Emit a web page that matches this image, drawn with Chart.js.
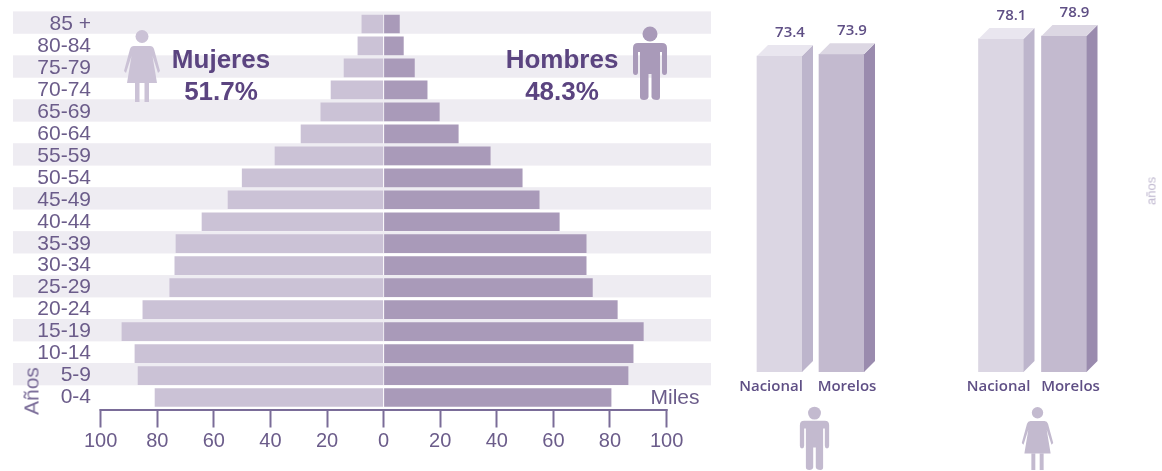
<!DOCTYPE html>
<html lang="es"><head><meta charset="utf-8"><title>Pirámide de población</title>
<script src="https://cdn.jsdelivr.net/npm/chart.js@4/dist/chart.umd.min.js"></script>
<style>
html,body{margin:0;padding:0;background:#fff;width:1162px;height:471px;overflow:hidden}
#stage{position:relative;width:1162px;height:471px;filter:blur(.45px);font-family:"Liberation Sans",Arial,sans-serif}
canvas{position:absolute;top:0}
.t{position:absolute;white-space:nowrap;transform:translate(-50%,-50%);line-height:1}
.h{font-weight:700;font-size:26px;color:#5b4480}
.rot{transform:translate(-50%,-50%) rotate(-90deg)}
svg{position:absolute;overflow:visible}
</style></head><body>
<div id="stage">
<canvas id="pyr" width="720" height="471" style="left:0;width:720px;height:471px"></canvas>
<canvas id="eh" width="170" height="471" style="left:728px;width:170px;height:471px"></canvas>
<canvas id="em" width="212" height="471" style="left:950px;width:212px;height:471px"></canvas>

<div class="t h" style="left:221px;top:59px">Mujeres</div>
<div class="t h" style="left:221px;top:91px">51.7%</div>
<div class="t h" style="left:562px;top:59px">Hombres</div>
<div class="t h" style="left:562px;top:91px">48.3%</div>
<div class="t" style="left:675px;top:396px;font-size:21px;color:#6b5c8a">Miles</div>
<div class="t rot" style="left:31px;top:391px;font-size:21px;color:#7a6c98">Años</div>
<div class="t rot" style="left:1151px;top:191px;font-size:13px;color:#bfb7cf">años</div>

<svg width="0" height="0" style="position:absolute">
<defs>
<g id="fem"><circle cx="20" cy="6.5" r="6.5"/><path d="M12 16H28Q31 16 32 19L38 41 36 43 30.5 26 35 53H5L9.5 26 4 43 2 41 8 19Q9 16 12 16Z"/><rect x="13" y="53" width="4.5" height="19"/><rect x="22.5" y="53" width="4.5" height="19"/></g>
<g id="mal"><circle cx="18" cy="7" r="7.5"/><path d="M6 16H30Q35 16 35 21V45Q35 48 32.5 48 30 48 30 45V25H28V70Q28 73 25 73 20 73 19.5 70V47H16.5V70Q16 73 12 73 8 73 8 70V25H6V45Q6 48 3.5 48 1 48 1 45V21Q1 16 6 16Z"/></g>
</defs></svg>
<svg style="left:122px;top:29.5px" width="40" height="72" viewBox="0 0 40 72" fill="#cbc2d6"><use href="#fem"/></svg>
<svg style="left:632px;top:27px" width="36" height="73" viewBox="0 0 36 73" fill="#a99ab9"><use href="#mal"/></svg>
<svg style="left:799px;top:407px" width="31" height="63" viewBox="0 0 36 73" fill="#c3bacf"><use href="#mal"/></svg>
<svg style="left:1020px;top:407px" width="35" height="63" viewBox="0 0 40 72" fill="#c3bacf"><use href="#fem"/></svg>
</div>
<script>
// ---- data ----
const ageGroups = ['85 +','80-84','75-79','70-74','65-69','60-64','55-59','50-54','45-49','40-44','35-39','30-34','25-29','20-24','15-19','10-14','5-9','0-4'];
const mujeres = [7.8,9.2,14.1,18.7,22.3,29.3,38.5,50.1,55.1,64.3,73.5,73.9,75.7,85.2,92.6,88,86.9,80.9];
const hombres = [5.7,7.1,11,15.5,19.8,26.5,37.8,49.1,55.1,62.2,71.7,71.7,73.9,82.7,91.9,88.3,86.5,80.5];
const milesTicks = [-100,-80,-60,-40,-20,0,20,40,60,80,100];
const lugares = ['Nacional','Morelos'];
const esperanzaHombres = [73.4,73.9];
const esperanzaMujeres = [78.1,78.9];

const labelColor = '#6b5c8a';
const font = 'Liberation Sans';

// alternating background bands and bottom axis line of the pyramid
const pyramidBack = {
  id:'pyramidBack',
  beforeDraw(c){
    const y=c.scales.y, g=c.ctx, step=y.getPixelForValue(1)-y.getPixelForValue(0);
    g.save(); g.fillStyle='#eeecf2';
    ageGroups.forEach((_,i)=>{ if(i%2===0){
      const cy=y.getPixelForValue(i);
      g.fillRect(13,cy-step/2-1.6,c.chartArea.right-13,step+.4);
    }});
    g.restore();
  },
  afterDraw(c){
    const x=c.scales.x,g=c.ctx,b=c.chartArea.bottom+1.5;
    g.save(); g.strokeStyle='#7a6c98'; g.lineWidth=2;
    g.beginPath(); g.moveTo(x.getPixelForValue(milesTicks[0])-1,b); g.lineTo(x.getPixelForValue(milesTicks[milesTicks.length-1])+1,b); g.stroke();
    g.restore();
  }
};

new Chart(document.getElementById('pyr'),{
  type:'bar',
  data:{labels:ageGroups,datasets:[
    {label:'Mujeres',data:mujeres.map(v=>-v),backgroundColor:'#cbc2d6',barPercentage:.85,categoryPercentage:1,borderWidth:0},
    {label:'Hombres',data:hombres,backgroundColor:'#a99ab9',barPercentage:.85,categoryPercentage:1,borderWidth:0}
  ]},
  plugins:[pyramidBack],
  options:{
    indexAxis:'y',responsive:false,animation:false,devicePixelRatio:1,
    layout:{padding:{top:13,right:9,left:0,bottom:0}},
    plugins:{legend:{display:false},tooltip:{enabled:false},title:{display:false}},
    scales:{
      x:{type:'linear',stacked:true,min:-102,max:115.7,
        afterBuildTicks(s){s.ticks=milesTicks.map(v=>({value:v}));},
        afterFit(s){s.height=62.5;s.paddingLeft=0;s.paddingRight=0;},
        border:{display:false},
        grid:{drawOnChartArea:false,drawTicks:true,tickLength:19,tickColor:'#7a6c98',tickWidth:2,offset:false},
        ticks:{autoSkip:false,maxRotation:0,padding:2,color:labelColor,font:{family:font,size:20},callback:v=>String(Math.abs(v))}
      },
      y:{type:'category',stacked:true,
        afterFit(s){s.width=95;s.paddingTop=0;s.paddingBottom=0;},
        border:{display:false},
        grid:{display:false,drawTicks:false},
        ticks:{autoSkip:false,padding:4,color:labelColor,font:{family:font,size:21}}
      }
    }
  }
});

// 3D faces, value labels and offset category labels of the life-expectancy bars
const faces = {front:['#dbd6e3','#c3bacf'],top:['#e9e6ef','#dcd7e3'],side:['#bdb5cc','#9a8bae']};
const depth = 11;
function bars3d(labelOffsets){
  return {id:'bars3d',afterDatasetsDraw(c){
    const g=c.ctx; const m=c.getDatasetMeta(0); const vals=c.data.datasets[0].data;
    m.data.forEach((el,i)=>{
      const l=el.x-el.width/2,r=el.x+el.width/2,t=el.y,b=el.base;
      g.fillStyle=faces.side[i];
      g.beginPath();g.moveTo(r,t);g.lineTo(r+depth,t-depth);g.lineTo(r+depth,b-depth);g.lineTo(r,b);g.closePath();g.fill();
      g.fillStyle=faces.top[i];
      g.beginPath();g.moveTo(l,t);g.lineTo(l+depth,t-depth);g.lineTo(r+depth,t-depth);g.lineTo(r,t);g.closePath();g.fill();
      g.fillStyle='#5f4f85';g.textAlign='center';g.textBaseline='middle';
      g.font='600 15px "Open Sans"';
      g.fillText(vals[i].toFixed(1),el.x+10.5,t-23.5);
      g.fillText(c.data.labels[i],el.x+labelOffsets[i],b+14.5);
    });
  }};
}
function lifeChart(id,values,padL,padR,offsets){
  return new Chart(document.getElementById(id),{
    type:'bar',
    data:{labels:lugares,datasets:[{label:'Esperanza de vida',data:values,base:-13.4,backgroundColor:faces.front,barThickness:45,borderWidth:0}]},
    plugins:[bars3d(offsets)],
    options:{
      responsive:false,animation:false,devicePixelRatio:1,
      layout:{padding:{left:padL,right:padR,top:0,bottom:99}},
      plugins:{legend:{display:false},tooltip:{enabled:false}},
      scales:{x:{display:false},y:{display:false,min:-13.4,max:88.8}}
    }
  });
}
lifeChart('eh',esperanzaHombres,20.5,25.5,[-8.5,5.5]);
lifeChart('em',esperanzaMujeres,19.5,66.5,[-2.5,6.5]);
</script>
</body></html>
